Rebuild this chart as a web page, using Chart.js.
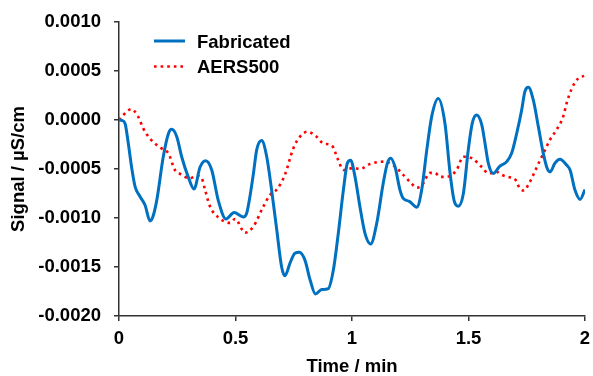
<!DOCTYPE html>
<html>
<head>
<meta charset="utf-8">
<script src="https://cdn.jsdelivr.net/npm/chart.js@4/dist/chart.umd.min.js"></script>
<style>
html,body{margin:0;padding:0;background:#fff;}
#wrap{width:593px;height:376px;}
</style>
</head>
<body>
<div id="wrap"><canvas id="c" width="593" height="376"></canvas></div>
<script>
// ---- data ----
const fabTime = [0.000,0.013,0.026,0.040,0.054,0.069,0.090,0.112,0.133,0.145,0.162,0.190,0.212,0.226,0.248,0.269,0.297,0.322,0.348,0.372,0.398,0.426,0.459,0.494,0.534,0.548,0.562,0.577,0.591,0.612,0.634,0.655,0.677,0.698,0.712,0.734,0.755,0.774,0.798,0.820,0.843,0.870,0.898,0.920,0.941,0.963,0.980,0.994,1.013,1.034,1.056,1.080,1.106,1.134,1.152,1.166,1.185,1.206,1.220,1.246,1.278,1.299,1.321,1.342,1.370,1.399,1.421,1.438,1.456,1.478,1.499,1.516,1.535,1.557,1.571,1.585,1.606,1.635,1.664,1.685,1.707,1.728,1.742,1.757,1.778,1.800,1.821,1.838,1.850,1.871,1.893,1.921,1.936,1.957,1.979,2.000];
const fabSignal = [0,-0.000005,-0.000035,-0.00024,-0.00048,-0.00068,-0.00078,-0.00087,-0.00103,-0.00099,-0.00082,-0.000375,-0.00014,-0.000095,-0.00017,-0.000375,-0.00058,-0.000705,-0.00048,-0.000415,-0.00051,-0.00082,-0.00101,-0.000945,-0.00099,-0.00095,-0.00078,-0.000545,-0.000305,-0.00021,-0.000375,-0.000715,-0.00112,-0.0015,-0.00159,-0.00146,-0.00136,-0.00135,-0.00143,-0.00163,-0.001775,-0.00173,-0.00172,-0.00153,-0.00116,-0.000715,-0.00044,-0.00041,-0.00058,-0.000885,-0.00116,-0.001265,-0.001055,-0.000645,-0.00044,-0.00039,-0.00048,-0.000715,-0.0008,-0.00083,-0.00089,-0.000715,-0.000305,0.000035,0.00022,-0.000035,-0.000545,-0.00082,-0.00088,-0.00075,-0.000305,-0.000035,0.00005,-0.00005,-0.00024,-0.00044,-0.000545,-0.00047,-0.000425,-0.00034,-0.000135,0.0001,0.00029,0.000335,0.000205,-0.00007,-0.00034,-0.000495,-0.00053,-0.00044,-0.0004,-0.00046,-0.00051,-0.000715,-0.00081,-0.00071];
const aersTime = [0.000,0.018,0.054,0.083,0.104,0.133,0.162,0.183,0.212,0.240,0.262,0.305,0.330,0.355,0.369,0.391,0.430,0.476,0.498,0.541,0.576,0.619,0.648,0.677,0.712,0.748,0.777,0.808,0.848,0.877,0.913,0.941,0.963,1.006,1.034,1.077,1.134,1.177,1.220,1.256,1.278,1.299,1.335,1.356,1.378,1.406,1.428,1.449,1.478,1.514,1.557,1.585,1.621,1.643,1.678,1.700,1.721,1.738,1.757,1.778,1.807,1.828,1.850,1.878,1.907,1.921,1.943,1.971,1.996];
const aersSignal = [0,0.00005,0.00011,0.00003,-0.000085,-0.00019,-0.000255,-0.00029,-0.00034,-0.00051,-0.00055,-0.000595,-0.00057,-0.000595,-0.00071,-0.000885,-0.001,-0.00105,-0.00101,-0.00115,-0.00109,-0.000885,-0.000765,-0.00071,-0.00056,-0.00029,-0.00017,-0.00012,-0.00017,-0.00024,-0.00026,-0.00041,-0.00051,-0.00049,-0.0005,-0.00045,-0.000425,-0.00046,-0.00056,-0.00065,-0.00069,-0.00067,-0.00054,-0.00054,-0.00058,-0.00058,-0.00056,-0.00051,-0.000375,-0.00039,-0.00048,-0.000545,-0.00053,-0.00056,-0.000585,-0.000605,-0.0007,-0.00072,-0.00066,-0.00056,-0.00041,-0.00031,-0.0002,-0.0001,0.00004,0.00017,0.00032,0.000425,0.00045];
const seriesNames = ["Fabricated","AERS500"];
const xTicks = [0,0.5,1,1.5,2];
const yTicks = [-0.0020,-0.0015,-0.0010,-0.0005,0.0000,0.0005,0.0010];
const xTitle = "Time / min";
const yTitle = "Signal / \u00B5S/cm";

const FONT = '"Liberation Sans", Arial, sans-serif';
const AXIS = '#333333';

const toPts = (t, v) => t.map((x, i) => ({x: x, y: v[i]}));

const legendPlugin = {
  id: 'insideLegend',
  afterDraw(chart) {
    const ctx = chart.ctx;
    const a = chart.chartArea;
    const x0 = a.left + 35, y0 = a.top + 19, row = 25.5;
    ctx.save();
    chart.data.datasets.forEach((ds, i) => {
      const y = y0 + i * row;
      ctx.beginPath();
      ctx.strokeStyle = ds.borderColor;
      ctx.lineWidth = ds.borderWidth;
      ctx.setLineDash(ds.borderDash || []);
      ctx.moveTo(x0, y);
      ctx.lineTo(x0 + 31, y);
      ctx.stroke();
      ctx.setLineDash([]);
      ctx.fillStyle = '#000';
      ctx.font = 'bold 18.5px ' + FONT;
      ctx.textBaseline = 'middle';
      ctx.textAlign = 'left';
      ctx.fillText(ds.label, x0 + 43, y + 1.5);
    });
    ctx.restore();
  }
};

new Chart(document.getElementById('c'), {
  type: 'line',
  data: {
    datasets: [
      {label: seriesNames[0], data: toPts(fabTime, fabSignal), borderColor: '#0070C0', borderWidth: 3, pointRadius: 0, cubicInterpolationMode: 'monotone', fill: false},
      {label: seriesNames[1], data: toPts(aersTime, aersSignal), borderColor: '#FF0000', borderWidth: 2.6, borderDash: [2.6, 4], pointRadius: 0, cubicInterpolationMode: 'monotone', fill: false}
    ]
  },
  plugins: [legendPlugin],
  options: {
    responsive: false,
    animation: false,
    devicePixelRatio: 1,
    layout: {padding: {left: 0, right: 8, top: 22, bottom: 0}},
    plugins: {legend: {display: false}, tooltip: {enabled: false}},
    scales: {
      x: {
        type: 'linear', min: 0, max: 2,
        afterBuildTicks: s => { s.ticks = xTicks.map(v => ({value: v})); },
        afterFit: s => { s.height = 60; s.paddingLeft = 0; s.paddingRight = 0; },
        ticks: {color: '#000', font: {family: FONT, size: 18.5, weight: 'bold'}, padding: 7, maxRotation: 0, callback: v => String(v)},
        grid: {display: true, drawOnChartArea: false, drawTicks: true, tickLength: 5, color: AXIS, lineWidth: 1.5},
        border: {display: true, color: AXIS, width: 1.5},
        title: {display: true, text: xTitle, color: '#000', font: {family: FONT, size: 18.5, weight: 'bold', lineHeight: 1}, padding: {top: 0, bottom: 0}}
      },
      y: {
        type: 'linear', min: -0.002, max: 0.001,
        afterBuildTicks: s => { s.ticks = yTicks.map(v => ({value: v})); },
        afterFit: s => { s.width = 119; s.paddingTop = 0; s.paddingBottom = 0; },
        ticks: {color: '#000', font: {family: FONT, size: 18.5, weight: 'bold'}, padding: 13, callback: v => Number(v).toFixed(4)},
        grid: {display: true, drawOnChartArea: false, drawTicks: true, tickLength: 5, color: AXIS, lineWidth: 1.5},
        border: {display: true, color: AXIS, width: 1.5},
        title: {display: true, text: yTitle, color: '#000', font: {family: FONT, size: 18.5, weight: 'bold', lineHeight: 1}, padding: {top: 10, bottom: 0}}
      }
    }
  }
});
</script>
</body>
</html>
